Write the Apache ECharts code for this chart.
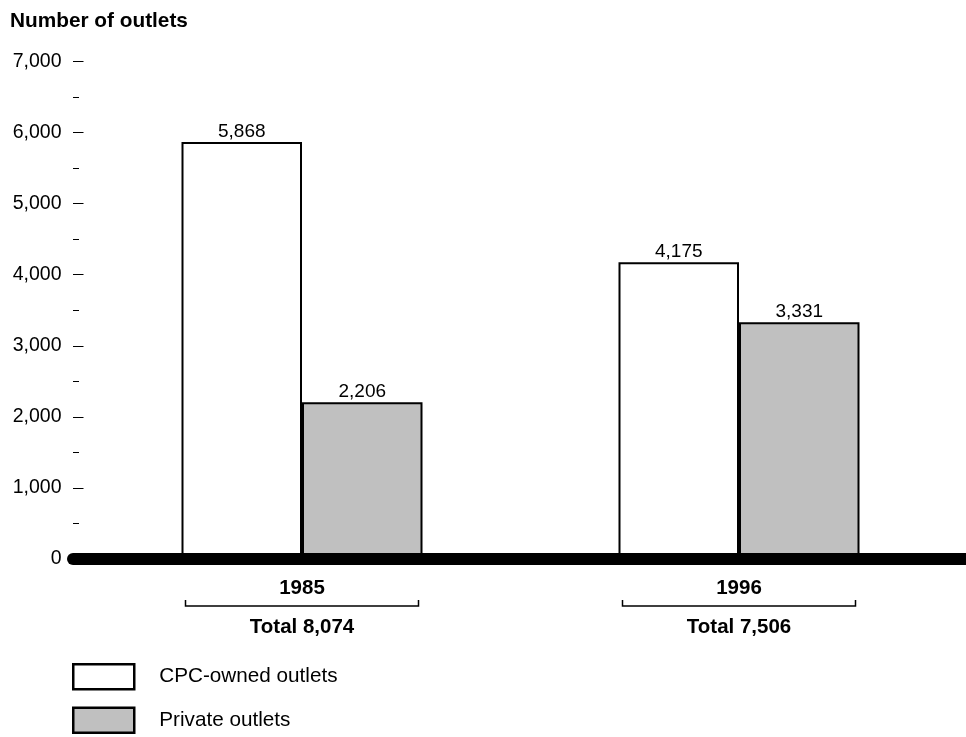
<!DOCTYPE html>
<html><head><meta charset="utf-8">
<script src="https://cdn.jsdelivr.net/npm/echarts@6/dist/echarts.min.js"></script>
<style>html,body{margin:0;padding:0;background:#fff}#c{width:966px;height:737px}</style>
</head><body><div id="c"></div>
<script>
const years = ['1985', '1996'];
const totals = ['Total 8,074', 'Total 7,506'];
const cpcOwned = [5868, 4175];
const privateOutlets = [2206, 3331];
const seriesNames = ['CPC-owned outlets', 'Private outlets'];
const yMax = 7000;

const FONT = '"Liberation Sans", Arial, Helvetica, sans-serif';
const fmt = v => String(v).replace(/\B(?=(\d{3})+(?!\d))/g, ',');
const BAR_W = 120.5;

const chart = echarts.init(document.getElementById('c'), null, {renderer: 'canvas'});
const option = {
  animation: false,
  backgroundColor: '#fff',
  textStyle: {fontFamily: FONT},
  title: {
    text: 'Number of outlets', left: 10, top: 11, padding: 0,
    textStyle: {fontFamily: FONT, fontSize: 20.8, fontWeight: 'bold', color: '#000'}
  },
  legend: {
    orient: 'vertical', left: 72, top: 663, height: 90, padding: 0,
    itemWidth: 61, itemHeight: 25, itemGap: 16,
    icon: 'rect',
    itemStyle: {borderWidth: 2.5},
    textStyle: {fontFamily: FONT, fontSize: 20.7, lineHeight: 22, color: '#000', padding: [0, 0, 0, 20]},
    data: seriesNames
  },
  grid: {left: 83.5, right: 8.5, top: 61.5, bottom: 178, outerBoundsMode: 'none'},
  xAxis: {
    type: 'category', data: years,
    axisLine: {show: false}, axisTick: {show: false},
    axisLabel: {
      margin: 17,
      formatter: (v, i) => '{y|' + v + '}\n{t|' + totals[i] + '}',
      rich: {
        y: {fontFamily: FONT, fontSize: 20.5, fontWeight: 'bold', color: '#000', lineHeight: 24},
        t: {fontFamily: FONT, fontSize: 20.5, fontWeight: 'bold', color: '#000', lineHeight: 54}
      }
    }
  },
  yAxis: [{
    type: 'value', min: 0, max: yMax, interval: 1000, position: 'left',
    splitLine: {show: false},
    axisLine: {show: false},
    axisTick: {show: true, length: 10, lineStyle: {color: '#000', width: 1}},
    axisLabel: {margin: 22, fontFamily: FONT, fontSize: 19.5, color: '#000', formatter: fmt}
  }, {
    type: 'value', min: 0, max: yMax, interval: 500, position: 'left', offset: 4.5,
    splitLine: {show: false},
    axisLine: {show: false},
    axisTick: {show: true, length: 6, lineStyle: {color: '#000', width: 1}},
    axisLabel: {show: false}
  }],
  series: [{
    name: seriesNames[0], type: 'bar', data: cpcOwned, barWidth: BAR_W, barGap: '0%',
    itemStyle: {color: '#ffffff', borderColor: '#000', borderWidth: 2},
    label: {show: true, position: 'top', distance: 1, fontFamily: FONT, fontSize: 19, color: '#000', formatter: p => fmt(p.value)}
  }, {
    name: seriesNames[1], type: 'bar', data: privateOutlets, barWidth: BAR_W, barGap: '0%',
    itemStyle: {color: '#c0c0c0', borderColor: '#000', borderWidth: 2},
    label: {show: true, position: 'top', distance: 1, fontFamily: FONT, fontSize: 19, color: '#000', formatter: p => fmt(p.value)}
  }]
};
chart.setOption(option);

const y0 = chart.convertToPixel({yAxisIndex: 0}, 0);
const graphics = [{
  type: 'line', z: 100, silent: true,
  shape: {x1: 73, y1: y0, x2: 990, y2: y0},
  style: {stroke: '#000', lineWidth: 12, lineCap: 'round'}
}];
years.forEach((yr, i) => {
  const cx = chart.convertToPixel({xAxisIndex: 0}, yr);
  const l = cx - BAR_W + 4, r = cx + BAR_W - 4;
  const yl = y0 + 47, ye = y0 + 41;
  graphics.push({
    type: 'polyline', silent: true,
    shape: {points: [[l, ye], [l, yl], [r, yl], [r, ye]]},
    style: {stroke: '#000', lineWidth: 1.5, fill: null}
  });
});
chart.setOption({graphic: graphics});
</script>
</body></html>
